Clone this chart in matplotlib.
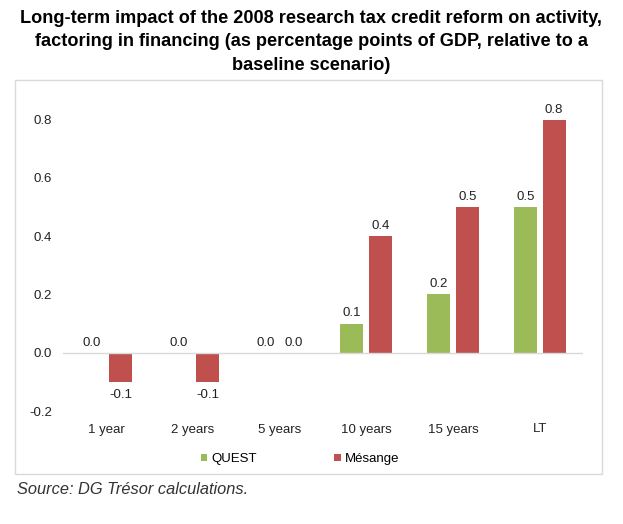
import matplotlib.pyplot as plt
import numpy as np
from matplotlib.patches import Rectangle

plt.rcParams['font.family'] = ['Liberation Sans', 'DejaVu Sans']

categories = ['1 year', '2 years', '5 years', '10 years', '15 years', 'LT']
quest = [0.0, 0.0, 0.0, 0.1, 0.2, 0.5]
mesange = [-0.1, -0.1, 0.0, 0.4, 0.5, 0.8]
series_names = ['QUEST', 'Mésange']

green = '#9BBB59'
red = '#C0504D'

fig = plt.figure(figsize=(6.23, 5.24), dpi=100)
W, H = 623, 524

# light frame around the chart area
fig.patches.append(Rectangle((15 / W, 1 - 474 / H), 587 / W, 394 / H,
                             transform=fig.transFigure, fill=False,
                             edgecolor='#D9D9D9', linewidth=1))

ax = fig.add_axes([63 / W, 1 - 411 / H, 520 / W, (411 - 90.6) / H])

x = np.arange(len(categories))
w = 0.265
off = 0.167
b1 = ax.bar(x - off, quest, w, color=green, label=series_names[0])
b2 = ax.bar(x + off, mesange, w, color=red, label=series_names[1])

fs = 9.5
for bars, vals in ((b1, quest), (b2, mesange)):
    for bar, v in zip(bars, vals):
        cx = bar.get_x() + bar.get_width() / 2
        if v < 0:
            ax.annotate(f'{v:.1f}', (cx, v), xytext=(0, -5), textcoords='offset points',
                        ha='center', va='top', fontsize=fs, color='#222222')
        else:
            ax.annotate(f'{v:.1f}', (cx, v), xytext=(0, 3), textcoords='offset points',
                        ha='center', va='bottom', fontsize=fs, color='#222222')

ax.axhline(0, color='#D9D9D9', linewidth=1)
ax.set_xlim(-0.5, len(categories) - 0.5)
ax.set_ylim(-0.2, 0.9)
yt = [-0.2, 0.0, 0.2, 0.4, 0.6, 0.8]
ax.set_yticks(yt)
ax.set_yticklabels([f'{t:.1f}' for t in yt])
ax.set_xticks(x)
ax.set_xticklabels(categories)
ax.tick_params(axis='both', length=0, labelsize=fs, colors='#222222')
ax.tick_params(axis='x', pad=9)
ax.tick_params(axis='y', pad=8)
for s in ax.spines.values():
    s.set_visible(False)

fig.legend(handles=[b1, b2], labels=series_names, loc='center',
           bbox_to_anchor=(300 / W, 1 - 459 / H), ncol=2, frameon=False,
           fontsize=fs, handlelength=0.5, handleheight=0.5, handletextpad=0.3,
           columnspacing=5.9)

fig.text(0.5, 1 - 42 / H,
         'Long-term impact of the 2008 research tax credit reform on activity,\n'
         'factoring in financing (as percentage points of GDP, relative to a\n'
         'baseline scenario)',
         ha='center', va='center', fontsize=13.1, fontweight='bold',
         linespacing=1.5, color='#000000')

fig.text(17 / W, 1 - 489 / H, 'Source: DG Trésor calculations.',
         ha='left', va='center', fontsize=11.8, style='italic', color='#333333')

fig.savefig('out.png', dpi=100)
